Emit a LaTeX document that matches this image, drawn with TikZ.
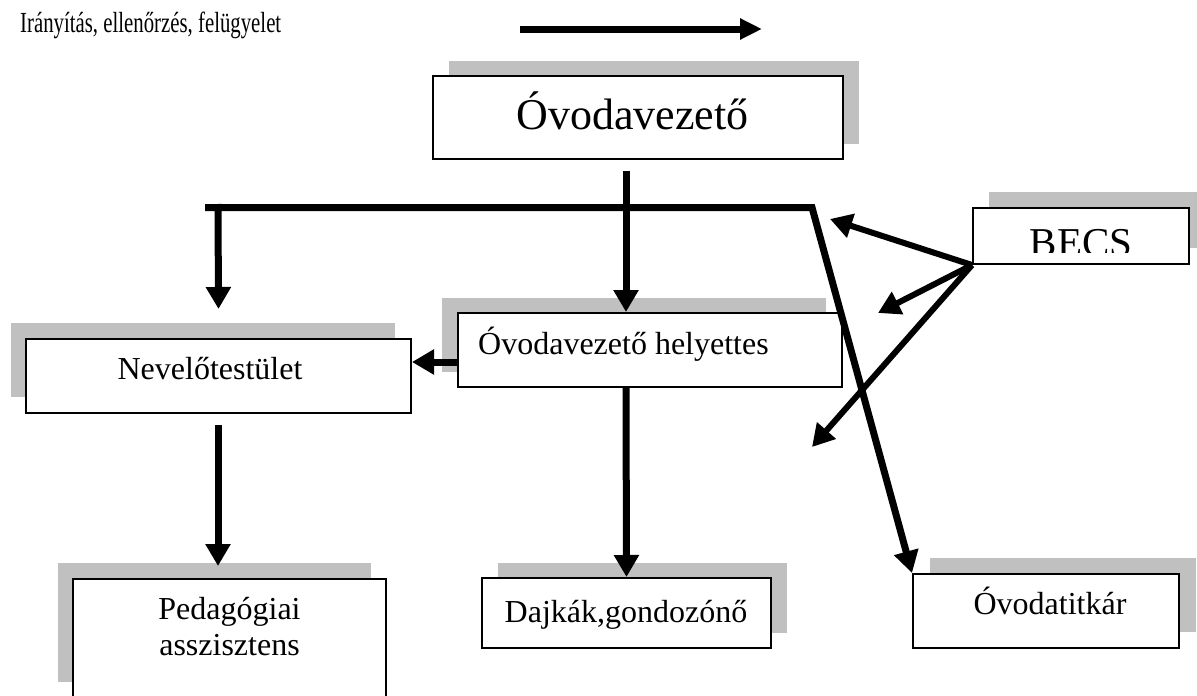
\documentclass[tikz,border=0pt]{standalone}
\usepackage{fontspec}
\setmainfont{Liberation Serif}
\usetikzlibrary{arrows.meta}
\definecolor{shadowgray}{HTML}{C0C0C0}
\tikzset{
  box/.style={draw=black, line width=2pt, fill=white, inner sep=0pt},
  conn/.style={line width=7pt, -{Triangle[width=24pt,length=22pt]}},
  thin conn/.style={line width=6pt, -{Triangle[width=24pt,length=22pt]}},
  lbl/.style={inner sep=0pt, anchor=base, font=\fontsize{32}{36}\selectfont},
}
\begin{document}
\begin{tikzpicture}[x=1pt,y=-1pt]
\clip (0,0) rectangle (1197,696);
\fill[white] (0,0) rectangle (1197,696);

% legend
\node[inner sep=0pt, anchor=base west] (leg) at (20,32) {\scalebox{1}[1.4]{\fontsize{20.8}{24}\selectfont Irányítás, ellenőrzés, felügyelet}};
\coordinate (la) at (520,29);
\coordinate (lb) at (762,29);
\draw[line width=7pt, -{Triangle[width=20pt,length=22pt]}] (la) -- (lb);

% shadows
\fill[shadowgray] (449,61) rectangle (859,144);
\fill[shadowgray] (442,298) rectangle (826,372);
\fill[shadowgray] (11,323) rectangle (395,397);
\fill[shadowgray] (989,192) rectangle (1205,248);
\fill[shadowgray] (930,558) rectangle (1196,632);
\fill[shadowgray] (498,563) rectangle (787,633);
\fill[shadowgray] (58,563) rectangle (371,682);

% boxes
\node[box, minimum width=410pt, minimum height=83pt] (ov) at (638,117.5) {};
\node[box, minimum width=384pt, minimum height=74pt] (hely) at (650,350) {};
\node[box, minimum width=385pt, minimum height=74pt] (nev) at (218.5,376) {};
\node[box, minimum width=216pt, minimum height=56pt] (becs) at (1081,236) {};
\node[box, minimum width=266pt, minimum height=74pt] (titkar) at (1046,611) {};
\node[box, minimum width=289pt, minimum height=70pt] (dajk) at (626.5,613) {};
\node[box, minimum width=313pt, minimum height=130pt] (ped) at (229.5,644) {};

% texts
\node[lbl, font=\fontsize{44}{48}\selectfont] (ovt) at (632.5,129) {Óvodavezető};
\node[lbl, anchor=base west] (helyt) at (478,354) {Óvodavezető helyettes};
\node[lbl] (nevt) at (210,379) {Nevelőtestület};
\node[lbl] (pedt1) at (229.5,619) {Pedagógiai};
\node[lbl] (pedt2) at (229.5,655) {asszisztens};
\node[lbl] (dajkt) at (626,622) {Dajkák,gondozónő};
\node[lbl] (titkart) at (1050,614) {Óvodatitkár};
\begin{scope}
  \clip (975,210) rectangle (1187,252);
  \node[lbl, font=\fontsize{41}{44}\selectfont] (becst) at (1081,256) {BECS};
\end{scope}

% connectors
\coordinate (barL) at (205,207.5);
\coordinate (barR) at (812,207.5);
\coordinate (bj) at (218,204);
\draw[conn] (barL) -- (barR) -- (titkar.north west);
\draw[conn] ([xshift=-12pt,yshift=-11pt]ov.south) -- ([xshift=-24pt]hely.north);
\draw[conn] (bj) -- ([yshift=29pt]nev.north);
\draw[conn] ([yshift=-12pt]hely.west) -- ([yshift=14pt]nev.east);
\draw[conn] ([xshift=-0.5pt,yshift=-11pt]nev.south) -- ([xshift=-11.5pt,yshift=12pt]ped.north);
\draw[conn] ([xshift=-24pt]hely.south) -- (dajk.north);

\coordinate (b1) at (830,219);
\coordinate (b2) at (878,313);
\coordinate (b3) at (812,447);
\draw[thin conn] (becs.south west) -- (b1);
\draw[thin conn] (becs.south west) -- (b2);
\draw[thin conn] (becs.south west) -- (b3);
\end{tikzpicture}
\end{document}
